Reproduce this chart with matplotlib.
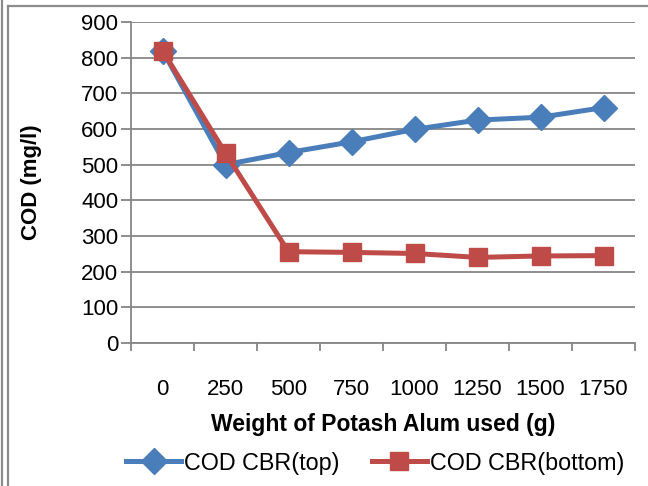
import matplotlib
matplotlib.use("Agg")
import matplotlib.pyplot as plt
from matplotlib.lines import Line2D

categories = ["0", "250", "500", "750", "1000", "1250", "1500", "1750"]
cod_top = [820, 500, 534, 564, 599, 625, 633, 660]
cod_bottom = [820, 532, 256, 254, 251, 240, 244, 245]
yticks = [0, 100, 200, 300, 400, 500, 600, 700, 800, 900]

plt.rcParams['font.family'] = ['Liberation Sans', 'DejaVu Sans']

W, H = 648, 486
fig = plt.figure(figsize=(W / 100, H / 100), dpi=100)
ax = fig.add_axes([131 / W, 1 - 343 / H, (635 - 131) / W, (343 - 22) / H])

x = list(range(len(categories)))
blue = '#4A7EBB'
red = '#BE4B48'
ax.plot(x, cod_top, color=blue, lw=3.6, marker='D', ms=13, mec=blue, mfc=blue,
        label='COD CBR(top)', zorder=3, solid_joinstyle='round')
ax.plot(x, cod_bottom, color=red, lw=3.6, marker='s', ms=13, mec=red, mfc=red,
        label='COD CBR(bottom)', zorder=4, solid_joinstyle='round')

grid_c = '#868686'
ax.set_ylim(0, 900)
ax.set_xlim(-0.5, len(categories) - 0.5)
ax.set_yticks(yticks)
ax.set_yticklabels([str(v) for v in yticks], fontsize=16)
ax.yaxis.grid(True, color=grid_c, lw=1.3)
ax.set_axisbelow(True)
ax.tick_params(axis='y', length=7, width=1.3, color=grid_c, pad=2)

ax.set_xticks([i - 0.5 for i in range(len(categories) + 1)], minor=False)
ax.set_xticklabels([])
ax.set_xticks(x, minor=True)
ax.set_xticklabels(categories, minor=True, fontsize=16)
ax.tick_params(axis='x', which='major', length=6, width=1.3, color=grid_c, direction='out')
ax.tick_params(axis='x', which='minor', length=0, pad=26)

for s in ['top', 'right']:
    ax.spines[s].set_visible(False)
for s in ['left', 'bottom']:
    ax.spines[s].set_color(grid_c)
    ax.spines[s].set_linewidth(1.3)

ax.set_ylabel('COD (mg/l)', fontsize=16, fontweight='bold')
ax.yaxis.set_label_coords((42 - 131) / (635 - 131), 0.5)
fig.text(383 / W, 1 - 424 / H, 'Weight of Potash Alum used (g)', fontsize=16.5,
         fontweight='bold', ha='center', va='center')

fig.legend(loc='center', bbox_to_anchor=(375 / W, 1 - 463 / H), ncol=2, frameon=False,
           fontsize=16.8, handlelength=2.35, handletextpad=0.12, columnspacing=1.4,
           borderaxespad=0, borderpad=0)

bc = '#8c8c8c'
fig.add_artist(Line2D([1.5 / W, 1.5 / W], [0, 1], color=bc, lw=1.6, transform=fig.transFigure))
fig.add_artist(Line2D([7.5 / W, 7.5 / W], [0, 1 - 6 / H], color=bc, lw=1.6, transform=fig.transFigure))
fig.add_artist(Line2D([7.5 / W, 1], [1 - 6 / H, 1 - 6 / H], color=bc, lw=1.6, transform=fig.transFigure))

fig.savefig('out.png', dpi=100)
